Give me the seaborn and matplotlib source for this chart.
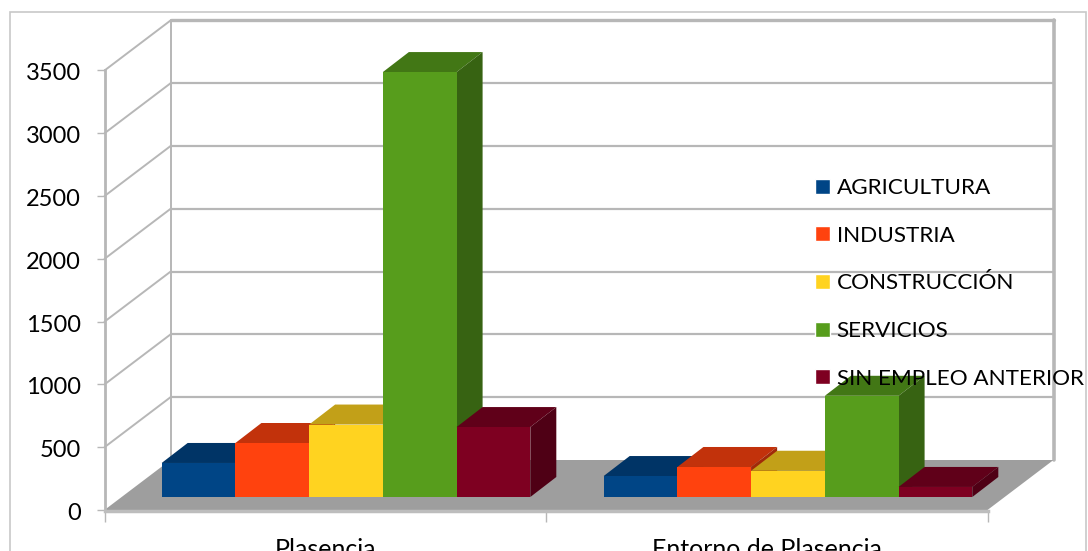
import matplotlib
matplotlib.use("Agg")
import matplotlib.pyplot as plt
import seaborn as sns
import pandas as pd
from matplotlib.patches import Polygon, Rectangle
from matplotlib.transforms import Affine2D, IdentityTransform
from matplotlib.colors import to_rgb

zonas = ["Plasencia", "Entorno de Plasencia"]
sectores = ["AGRICULTURA", "INDUSTRIA", "CONSTRUCCIÓN", "SERVICIOS", "SIN EMPLEO ANTERIOR"]
plasencia = [271, 430, 577, 3384, 557]
entorno = [167, 239, 209, 806, 80]
y_ticks = [0, 500, 1000, 1500, 2000, 2500, 3000, 3500]
colores = ["#004586", "#ff420e", "#ffd320", "#579d1c", "#7e0021"]

W, H = 1088, 551
GRID = "#b7b7b7"
WALL_DX, WALL_DY = 66, 50
BAR_DX, BAR_DY = 26, 20


def box(left, top, right, bottom):
    return [left / W, (H - bottom) / H, (right - left) / W, (bottom - top) / H]


df = pd.DataFrame({
    "zona": [zonas[0]] * 5 + [zonas[1]] * 5,
    "sector": sectores * 2,
    "valor": plasencia + entorno,
})

sns.set_theme(style="white")
plt.rcParams["font.family"] = ["Lato", "DejaVu Sans"]

fig = plt.figure(figsize=(W / 100, H / 100), dpi=100)
fig.add_artist(Rectangle((10 / W, -0.1), 1076 / W, 1.1 - 12 / H, transform=fig.transFigure,
                         fill=False, edgecolor="#c8c8c8", linewidth=1.2))

# front plane of the chart, holds the ticks and the walls
ax = fig.add_axes(box(104.5, 70.5, 987.5, 510))
ax.set_xlim(-0.5, 1.5)
ax.set_ylim(0, 3500)
ax.patch.set_alpha(0)
for s in ["top", "right"]:
    ax.spines[s].set_visible(False)
ax.spines["left"].set_color(GRID)
ax.spines["left"].set_linewidth(2)
ax.spines["bottom"].set_color("#bdbdbd")
ax.spines["bottom"].set_linewidth(2.5)
ax.spines["bottom"].set_position(("outward", 1))
ax.set_yticks(y_ticks)
ax.set_xticks([-0.5, 0.5, 1.5])
ax.set_xticklabels([])
ax.set_xticks([0, 1], minor=True)
ax.set_xticklabels(zonas, minor=True)
ax.tick_params(axis="y", length=6, width=1, color=GRID, labelsize=17, pad=11, labelcolor="black", left=True)
ax.tick_params(axis="x", which="major", length=8, width=1, color=GRID, bottom=True)
ax.tick_params(axis="x", which="minor", length=0, pad=19, labelsize=18, labelcolor="black")
for lab in ax.get_yticklabels():
    lab.set_va("center")
    lab.set_transform(lab.get_transform() + Affine2D().translate(0, -3.5))

back = ax.transData + Affine2D().translate(WALL_DX, WALL_DY)
px = IdentityTransform()
x0, x1 = -0.5, 1.5

# floor
p = [ax.transData.transform((x0, 0)), ax.transData.transform((x1, 0)),
     back.transform((x1, 0)), back.transform((x0, 0))]
ax.add_patch(Polygon(p, closed=True, transform=px, facecolor="#9e9e9e", edgecolor="none",
                     clip_on=False, zorder=1))

# back wall and the oblique lines on the left wall
for v in y_ticks:
    lw = 2.4 if v == 3500 else 1.6
    if v > 0:
        ax.plot([x0, x1], [v, v], transform=back, color=GRID, lw=lw, clip_on=False, zorder=0.5)
        a = ax.transData.transform((x0, v))
        b = back.transform((x0, v))
        ax.plot([a[0], b[0]], [a[1], b[1]], transform=px, color=GRID, lw=1.4, clip_on=False, zorder=0.5)
ax.plot([x0, x0], [0, 3500], transform=back, color=GRID, lw=1.4, clip_on=False, zorder=0.5)
ax.plot([x1, x1], [0, 3500], transform=back, color=GRID, lw=2.6, clip_on=False, zorder=0.5)
ax.set_xlim(x0, x1)
ax.set_ylim(0, 3500)

# plane the bars stand on
bar_ax = fig.add_axes(box(125, 57.5, 1009, 497))
bar_ax.patch.set_alpha(0)
sns.barplot(data=df, x="zona", y="valor", hue="sector", hue_order=sectores, order=zonas,
            palette=colores, saturation=1, width=0.834, gap=0, ax=bar_ax)
bar_ax.set_xlim(x0, x1)
bar_ax.set_ylim(0, 3500)
handles, labels = bar_ax.get_legend_handles_labels()
bar_ax.get_legend().remove()


def shade(color, f):
    return tuple(c * f for c in to_rgb(color))


for i, bar in enumerate(bar_ax.patches):
    if bar.get_height() == 0:
        continue
    color = bar.get_facecolor()
    bar.set_edgecolor("none")
    bar.set_zorder(3 * i + 4)
    (l, b), (r, t) = bar_ax.transData.transform(
        [(bar.get_x(), 0), (bar.get_x() + bar.get_width(), bar.get_height())])
    top = [(l, t), (r, t), (r + BAR_DX, t + BAR_DY), (l + BAR_DX, t + BAR_DY)]
    side = [(r, b), (r + BAR_DX, b + BAR_DY), (r + BAR_DX, t + BAR_DY), (r, t)]
    bar_ax.add_patch(Polygon(top, closed=True, transform=px, facecolor=shade(color, 0.76),
                             edgecolor="none", clip_on=False, zorder=3 * i + 3))
    bar_ax.add_patch(Polygon(side, closed=True, transform=px, facecolor=shade(color, 0.63),
                             edgecolor="none", clip_on=False, zorder=3 * i + 3))
bar_ax.axis("off")

leg = bar_ax.legend(handles, labels, loc="upper left", frameon=False, prop={"size": 16.2},
                    bbox_to_anchor=(810.5 / W, (H - 173.5) / H), bbox_transform=fig.transFigure,
                    handlelength=0.66, handleheight=0.66, handletextpad=0.3,
                    labelspacing=1.23, borderaxespad=0, borderpad=0.2)
leg.set_zorder(100)
for t in leg.get_texts():
    t.set_color("black")

fig.savefig("out.png", dpi=100)
